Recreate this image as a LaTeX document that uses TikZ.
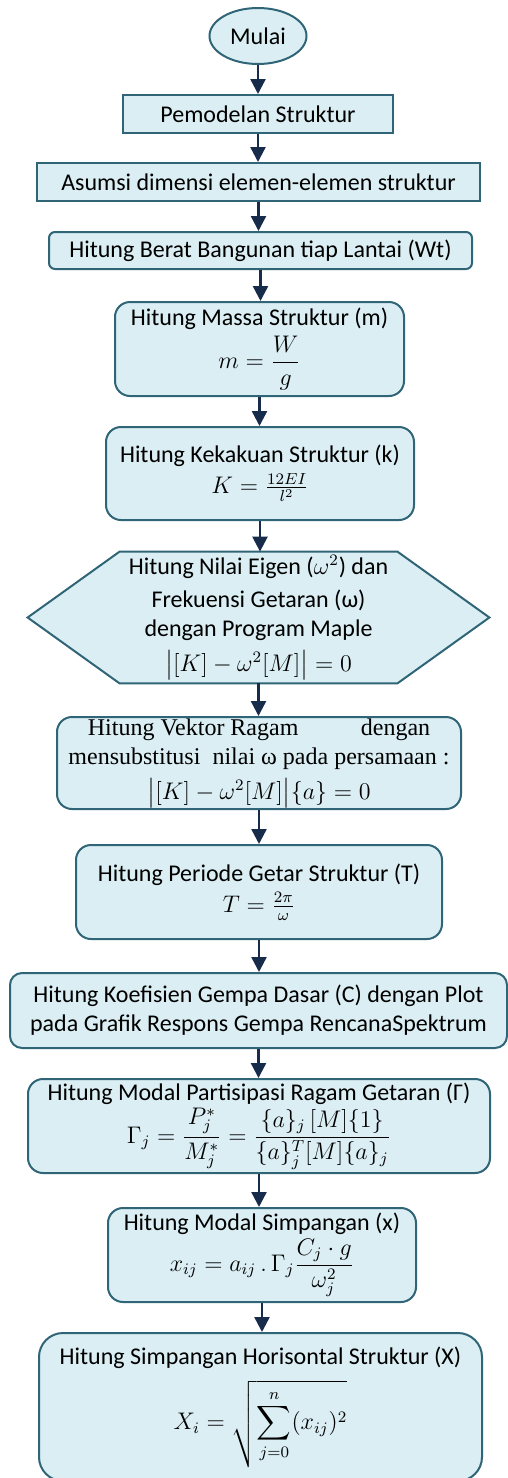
\documentclass[tikz,border=0pt]{standalone}
\usepackage{amsmath}
\usepackage{fontspec}
\setmainfont{Carlito}
\newfontfamily\timesfont{Liberation Serif}
\usetikzlibrary{shapes.geometric,arrows.meta,backgrounds}

\definecolor{boxfill}{HTML}{DAEEF3}
\definecolor{framecol}{HTML}{2F6576}
\definecolor{arrowcol}{HTML}{172B4A}

\tikzset{
  flowbox/.style={rectangle, draw=framecol, fill=boxfill, line width=1pt,
    align=center, inner sep=0pt, font=\fontsize{12}{14.5}\selectfont},
  roundbox/.style={flowbox, rounded corners=7.5pt},
  startnode/.style={flowbox, ellipse},
  hexline/.style={draw=framecol, fill=boxfill, line width=1pt},
  flowarrow/.style={-{Triangle[width=7.5pt,length=7.5pt]}, line width=1.2pt, arrowcol},
}

\begin{document}
\begin{tikzpicture}[x=0.5pt, y=-0.5pt]
  \useasboundingbox (0,0) rectangle (508,1478);
  % start and simple steps
  \node[startnode, minimum width=48.5pt, minimum height=28pt] (mulai) at (258,36) {Mulai};
  \node[flowbox, minimum width=135pt, minimum height=19pt] (model) at (258,114) {Pemodelan Struktur};
  \node[flowbox, minimum width=221.5pt, minimum height=19pt] (asumsi) at (258.5,182) {Asumsi dimensi elemen-elemen struktur};
  \node[flowbox, rounded corners=3pt, minimum width=211.5pt, minimum height=18.5pt] (berat) at (260.5,250.5) {Hitung Berat Bangunan tiap Lantai (Wt)};
  % mass and stiffness
  \node[roundbox, minimum width=144.5pt, minimum height=47pt] (massa) at (259.5,349)
    {Hitung Massa Struktur (m)\\[2pt] $m = \dfrac{W}{g}$};
  \node[roundbox, minimum width=154pt, minimum height=46.5pt] (kaku) at (260,473.5)
    {Hitung Kekakuan Struktur (k)\\[1pt] $K = \frac{12EI}{l^2}$};
  % eigen value hexagon
  \node[align=center, inner sep=0pt, font=\fontsize{12}{14.5}\selectfont,
        minimum width=230.5pt, minimum height=65.5pt] (eigen) at (258.5,617.5)
    {Hitung Nilai Eigen ($\omega^2$) dan\\[2pt] Frekuensi Getaran (ω)\\ dengan Program Maple\\[3pt] $\bigl|[K]-\omega^2[M]\bigr|=0$};
  \begin{scope}[on background layer]
    \draw[hexline] (eigen.west) -- ([xshift=46pt]eigen.north west) -- ([xshift=-46pt]eigen.north east)
      -- (eigen.east) -- ([xshift=-46pt]eigen.south east) -- ([xshift=46pt]eigen.south west) -- cycle;
  \end{scope}
  % mode shape, period, coefficient
  \node[roundbox, font=\timesfont\fontsize{12}{14.5}\selectfont, minimum width=202pt, minimum height=46pt] (vektor) at (259,763)
    {Hitung Vektor Ragam\hspace{2.6em}dengan\\ mensubstitusi\ \ nilai ω pada persamaan :\\[3pt] $\bigl|[K]-\omega^2[M]\bigr|\{a\}=0$};
  \node[roundbox, minimum width=183pt, minimum height=47pt] (periode) at (259,892)
    {Hitung Periode Getar Struktur (T)\\[1pt] $T = \frac{2\pi}{\omega}$};
  \node[roundbox, rounded corners=6pt, minimum width=248.5pt, minimum height=37.5pt] (koef) at (258.5,1010.5)
    {Hitung Koefisien Gempa Dasar (C) dengan Plot\\ pada Grafik Respons Gempa RencanaSpektrum};
  % participation, displacement
  \node[roundbox, minimum width=231pt, minimum height=47pt] (gamma) at (259,1126)
    {Hitung Modal Partisipasi Ragam Getaran (Γ)\\[1pt] $\Gamma_j = \dfrac{P_j^*}{M_j^*} = \dfrac{\{a\}_j\,[M]\{1\}}{\{a\}_j^T[M]\{a\}_j}$};
  \node[roundbox, minimum width=154pt, minimum height=47pt] (simp) at (262,1255)
    {Hitung Modal Simpangan (x)\\[1pt] $x_{ij} = a_{ij}\,.\,\Gamma_j\dfrac{C_j\cdot g}{\omega_j^2}$};
  \node[roundbox, rounded corners=12pt, minimum width=221.5pt, minimum height=74pt] (horis) at (260.5,1407)
    {Hitung Simpangan Horisontal Struktur (X)\\[5pt] $\displaystyle X_i = \sqrt{\sum_{j=0}^{n}(x_{ij})^2}$};
  % arrows
  \foreach \a/\b in {mulai/model, model/asumsi, asumsi/berat, berat/massa, massa/kaku, kaku/eigen,
                     eigen/vektor, vektor/periode, periode/koef, koef/gamma, gamma/simp, simp/horis}
    \draw[flowarrow] (\a.south) -- (\a.south |- \b.north);
\end{tikzpicture}
\end{document}
